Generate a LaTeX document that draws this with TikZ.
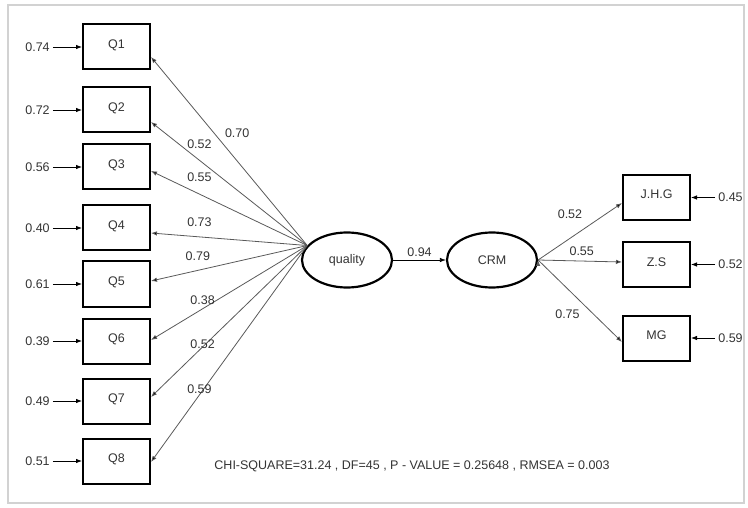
\documentclass[tikz,border=0pt]{standalone}
\usepackage{fontspec}
\setmainfont{Liberation Sans}
\usetikzlibrary{positioning,shapes.geometric,arrows.meta}

\tikzset{
  obs/.style={draw,line width=2pt,minimum width=67pt,minimum height=45pt,inner sep=0pt,text height=8pt,text depth=5pt},
  lat/.style={draw,ellipse,line width=2.2pt,minimum width=90pt,minimum height=55pt,inner sep=0pt},
  err/.style={inner sep=1pt},
  reg/.style={draw,line width=0.8pt,shorten <=2pt,-{Latex[length=6pt,width=4.5pt]}},
  load/.style={draw=gray!70!black,line width=0.8pt,-{Latex[length=6pt,width=4.5pt]}}
}

\begin{document}
\begin{tikzpicture}[x=1pt,y=-1pt,on grid,font=\fontsize{12.5}{14}\selectfont,text=black!80]
  \useasboundingbox (0,0) rectangle (748,508);
  \draw[gray!35,line width=1.2pt] (8,5) rectangle (744,503);

  % indicators of quality
  \node[obs] (q1) at (116.5,47) {Q1};
  \node[obs] (q2) [below=63pt of q1] {Q2};
  \node[obs] (q3) [below=57pt of q2] {Q3};
  \node[obs] (q4) [below=61pt of q3] {Q4};
  \node[obs] (q5) [below=56pt of q4] {Q5};
  \node[obs] (q6) [below=57pt of q5] {Q6};
  \node[obs] (q7) [below=60pt of q6] {Q7};
  \node[obs] (q8) [below=60pt of q7] {Q8};

  \foreach \i/\v in {1/0.74,2/0.72,3/0.56,4/0.40,5/0.61,6/0.39,7/0.49,8/0.51} {
    \node[err] (e\i) [left=79pt of q\i] {\v};
    \draw[reg] (e\i) -- (q\i);
  }

  % latent variables
  \node[lat] (quality) at (347,260) {quality};
  \node[lat] (crm) [right=145pt of quality] {CRM};
  \coordinate (hub) at (quality.160);

  \node[obs] (jhg) at (656.5,197.5) {J.H.G};
  \node[obs] (zs) [below=67pt of jhg] {Z.S};
  \node[obs] (mg) [below=73.5pt of zs] {MG};

  \foreach \n/\v in {jhg/0.45,zs/0.52,mg/0.59} {
    \node[err] (r\n) [right=74pt of \n] {\v};
    \draw[reg] (r\n) -- (\n);
  }

  \path[load]
  (hub)
  edge node [pos=.55,above right] {0.70} ([yshift=-10pt]q1.east)
  edge node [pos=.69,above,yshift=8pt] {0.52} ([yshift=-12pt]q2.east)
  edge node [pos=.69,above,yshift=9pt] {0.55} ([yshift=-4pt]q3.east)
  edge node [pos=.69,above,yshift=7pt] {0.73} ([yshift=-5pt]q4.east)
  edge node [pos=.70,above,yshift=6pt] {0.79} ([yshift=3pt]q5.east)
  edge node [pos=.67,above] {0.38} ([yshift=1pt]q6.east)
  edge node [pos=.67,yshift=3pt] {0.52} ([yshift=4pt]q7.east)
  edge node [pos=.69,yshift=6pt] {0.59} ([yshift=-1pt]q8.east)
  (crm.east)
  edge node [pos=.38,above,yshift=16pt] {0.52} ([yshift=-5.5pt]jhg.west)
  edge node [pos=.52,above,yshift=2pt] {0.55} ([yshift=2.5pt]zs.west)
  edge node [pos=.35,below,yshift=-17pt] {0.75} ([yshift=-4pt]mg.west)
  ;

  \draw[reg,shorten <=0pt] (quality) -- node [above] {0.94} (crm);

  \node (fit) at (412,466) {CHI-SQUARE=31.24 , DF=45 , P - VALUE = 0.25648 , RMSEA = 0.003};
\end{tikzpicture}
\end{document}
